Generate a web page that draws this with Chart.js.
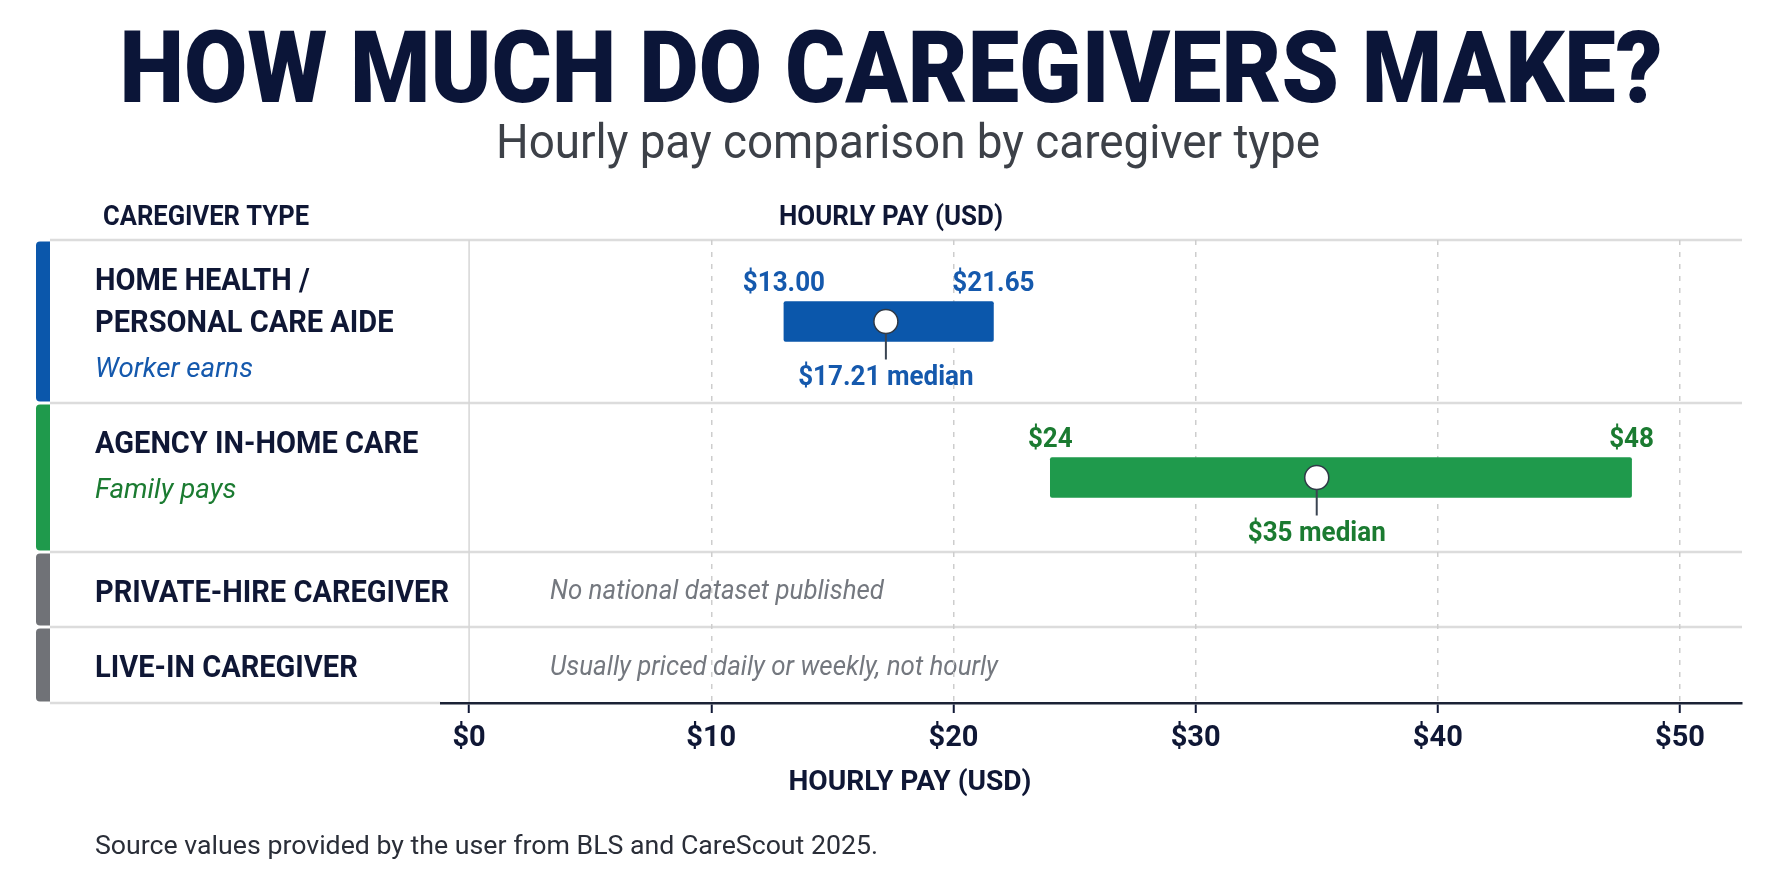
<!DOCTYPE html>
<html>
<head>
<meta charset="utf-8">
<title>How much do caregivers make?</title>
<script src="https://cdn.jsdelivr.net/npm/chart.js@4.4.1/dist/chart.umd.min.js"></script>
<style>
  html, body { margin: 0; padding: 0; background: #fff; }
  #wrap { position: relative; width: 1774px; height: 887px; }
</style>
</head>
<body>
<div id="wrap"><canvas id="payChart"></canvas></div>
<script>
// Chart data
const categories = ['Home health / personal care aide', 'Agency in-home care', 'Private-hire caregiver', 'Live-in caregiver'];
const typeLines = [['HOME HEALTH /', 'PERSONAL CARE AIDE'], ['AGENCY IN-HOME CARE'], ['PRIVATE-HIRE CAREGIVER'], ['LIVE-IN CAREGIVER']];
const payerNotes = ['Worker earns', 'Family pays', '', ''];
const payLow = [13.00, 24, null, null];
const payHigh = [21.65, 48, null, null];
const payMedian = [17.21, 35, null, null];
const lowLabels = ['$13.00', '$24', '', ''];
const highLabels = ['$21.65', '$48', '', ''];
const medianLabels = ['$17.21 median', '$35 median', '', ''];
const missingNotes = ['', '', 'No national dataset published', 'Usually priced daily or weekly, not hourly'];
const tickValues = [0, 10, 20, 30, 40, 50];

const titleText = 'HOW MUCH DO CAREGIVERS MAKE?';
const subtitleText = 'Hourly pay comparison by caregiver type';
const sourceText = 'Source values provided by the user from BLS and CareScout 2025.';

// Styles
const FONT = 'Roboto, "Noto Sans", sans-serif';
const NAVY = '#0f1735';
const rowColors = ['#0b57ab', '#1f9a4c', '#707277', '#707277'];
const textColors = ['#1559ad', '#1b7b31', '#74787f', '#74787f'];
const rowWeights = [163, 149, 75, 76];

// category scale whose rows can have different heights
class RowScale extends Chart.CategoryScale {
    static id = 'rowCategory';
    static defaults = Chart.CategoryScale.defaults;
    getPixelForValue(value) {
        if (typeof value !== 'number') value = this.parse(value);
        const w = rowWeights;
        const total = w.reduce((a, b) => a + b, 0);
        const i = Math.min(Math.max(Math.round(value), 0), w.length - 1);
        let start = 0;
        for (let k = 0; k < i; k++) start += w[k];
        return this.top + (start + w[i] * (0.5 + value - i)) / total * this.height;
    }
}
Chart.register(RowScale);

// text helpers: y is the visual centre of the capitals, sx squeezes horizontally
function label(ctx, text, x, cy, size, font, color, align, sx) {
    ctx.save();
    ctx.font = `${font} ${size}px ${FONT}`;
    ctx.fillStyle = color;
    ctx.textAlign = align || 'left';
    ctx.textBaseline = 'alphabetic';
    ctx.translate(x, cy + size * 0.355);
    ctx.scale(sx || 1, 1);
    ctx.fillText(text, 0, 0);
    ctx.restore();
}
function fitTo(ctx, text, size, font, width) {
    ctx.save();
    ctx.font = `${font} ${size}px ${FONT}`;
    const w = ctx.measureText(text).width;
    ctx.restore();
    return width / w;
}

const tablePlugin = {
    id: 'tableLayout',
    beforeDraw(chart) {
        const { ctx, chartArea: area, scales: { x, y } } = chart;
        ctx.save();
        ctx.fillStyle = '#ffffff';
        ctx.fillRect(0, 0, chart.width, chart.height);

        // title block
        label(ctx, titleText, 891, 66, 100, '900', '#0b1538', 'center', fitTo(ctx, titleText, 100, '900', 1543));
        label(ctx, subtitleText, 908, 141, 48, '400', '#3d4148', 'center', fitTo(ctx, subtitleText, 48, '400', 824));

        // column headers
        label(ctx, 'CAREGIVER TYPE', 103, 215, 28, 'bold', NAVY, 'left', fitTo(ctx, 'CAREGIVER TYPE', 28, 'bold', 206));
        label(ctx, 'HOURLY PAY (USD)', 891, 215, 28, 'bold', NAVY, 'center', fitTo(ctx, 'HOURLY PAY (USD)', 28, 'bold', 224));

        const typeSx = fitTo(ctx, 'PRIVATE-HIRE CAREGIVER', 32, 'bold', 354);
        const noteSx = fitTo(ctx, 'Worker earns', 28, 'italic 400', 158);
        const missSx = fitTo(ctx, 'No national dataset published', 28, 'italic 400', 334);
        const zeroX = x.getPixelForValue(0);

        categories.forEach((c, i) => {
            const top = y.getPixelForValue(i - 0.5);
            const bottom = y.getPixelForValue(i + 0.5);
            const mid = y.getPixelForValue(i);

            // coloured strip
            ctx.fillStyle = rowColors[i];
            ctx.beginPath();
            ctx.roundRect(36, top + 1.5, 14, bottom - top - 3, [4, 0, 0, 4]);
            ctx.fill();

            // row lines
            ctx.strokeStyle = '#dcdcdc';
            ctx.lineWidth = 2.5;
            ctx.beginPath();
            if (i === 0) { ctx.moveTo(50, top); ctx.lineTo(area.right, top); }
            ctx.moveTo(50, bottom);
            ctx.lineTo(i === categories.length - 1 ? area.left : area.right, bottom);
            ctx.stroke();

            // type label and who pays
            let ly = top + 39;
            typeLines[i].forEach((t, k) => {
                if (k > 0) ly += 42;
                label(ctx, t, 95, ly, 32, 'bold', NAVY, 'left', typeSx);
            });
            if (payerNotes[i]) label(ctx, payerNotes[i], 95, ly + 46, 28, 'italic 400', textColors[i], 'left', noteSx);

            if (missingNotes[i]) label(ctx, missingNotes[i], 550, mid, 28, 'italic 400', textColors[i], 'left', missSx);
        });

        // column divider at $0
        ctx.strokeStyle = '#d6d6d6';
        ctx.lineWidth = 1.5;
        ctx.beginPath();
        ctx.moveTo(zeroX, area.top);
        ctx.lineTo(zeroX, area.bottom);
        ctx.stroke();

        // axis title + source
        label(ctx, 'HOURLY PAY (USD)', 910, 780, 28, 'bold', NAVY, 'center', fitTo(ctx, 'HOURLY PAY (USD)', 28, 'bold', 243));
        label(ctx, sourceText, 95, 845, 25, '400', '#2a2e38', 'left', fitTo(ctx, sourceText, 25, '400', 783));
        ctx.restore();
    },
    afterDatasetsDraw(chart) {
        const { ctx, scales: { x, y } } = chart;
        const r = chart.data.datasets[0].pointRadius;
        ctx.save();
        categories.forEach((c, i) => {
            if (payMedian[i] == null) return;
            const cy = y.getPixelForValue(i);
            const mx = x.getPixelForValue(payMedian[i]);
            ctx.strokeStyle = '#3a4452';
            ctx.lineWidth = 2;
            ctx.beginPath();
            ctx.moveTo(mx, cy + r);
            ctx.lineTo(mx, cy + 38);
            ctx.stroke();
            label(ctx, medianLabels[i], mx, cy + 54, 28, 'bold', textColors[i], 'center', 0.93);
            label(ctx, lowLabels[i], x.getPixelForValue(payLow[i]), cy - 40, 28, 'bold', textColors[i], 'center', 0.93);
            label(ctx, highLabels[i], x.getPixelForValue(payHigh[i]), cy - 40, 28, 'bold', textColors[i], 'center', 0.93);
        });
        ctx.restore();
    }
};

const payRanges = categories.map((c, i) => payLow[i] == null ? null : [payLow[i], payHigh[i]]);
const medianPoints = categories
    .map((c, i) => ({ x: payMedian[i], y: c }))
    .filter(p => p.x != null);

new Chart(document.getElementById('payChart'), {
    data: {
        labels: categories,
        datasets: [
            {
                type: 'scatter', label: 'Median', data: medianPoints, order: 1,
                pointRadius: 12, pointHoverRadius: 12,
                pointBackgroundColor: '#ffffff', pointBorderColor: '#2f3946', pointBorderWidth: 1.5
            },
            {
                type: 'bar', label: 'Hourly pay range', indexAxis: 'y', data: payRanges, order: 2,
                backgroundColor: rowColors, barThickness: 40, borderRadius: 2, borderSkipped: false
            }
        ]
    },
    options: {
        responsive: true,
        maintainAspectRatio: false,
        animation: false,
        events: [],
        layout: { padding: { top: 240, left: 441, right: 32, bottom: 0 } },
        plugins: { legend: { display: false }, title: { display: false }, tooltip: { enabled: false } },
        scales: {
            x: {
                type: 'linear', position: 'bottom', min: -1.16, max: 52.56,
                afterBuildTicks: s => { s.ticks = tickValues.map(v => ({ value: v })); },
                afterFit: s => { s.height = 184; },
                grid: {
                    color: c => (c.tick && c.tick.value === 0) ? 'rgba(0,0,0,0)' : '#cdcdcd',
                    lineWidth: 1.5, tickLength: 10, tickColor: NAVY, tickWidth: 2
                },
                border: { display: true, color: '#1b2235', width: 2.5, dash: [5, 7] },
                ticks: { color: NAVY, padding: 8, font: { family: FONT, size: 29, weight: 'bold' }, callback: v => '$' + v }
            },
            y: { type: 'rowCategory', display: false, grid: { display: false } }
        }
    },
    plugins: [tablePlugin]
});
</script>
</body>
</html>
